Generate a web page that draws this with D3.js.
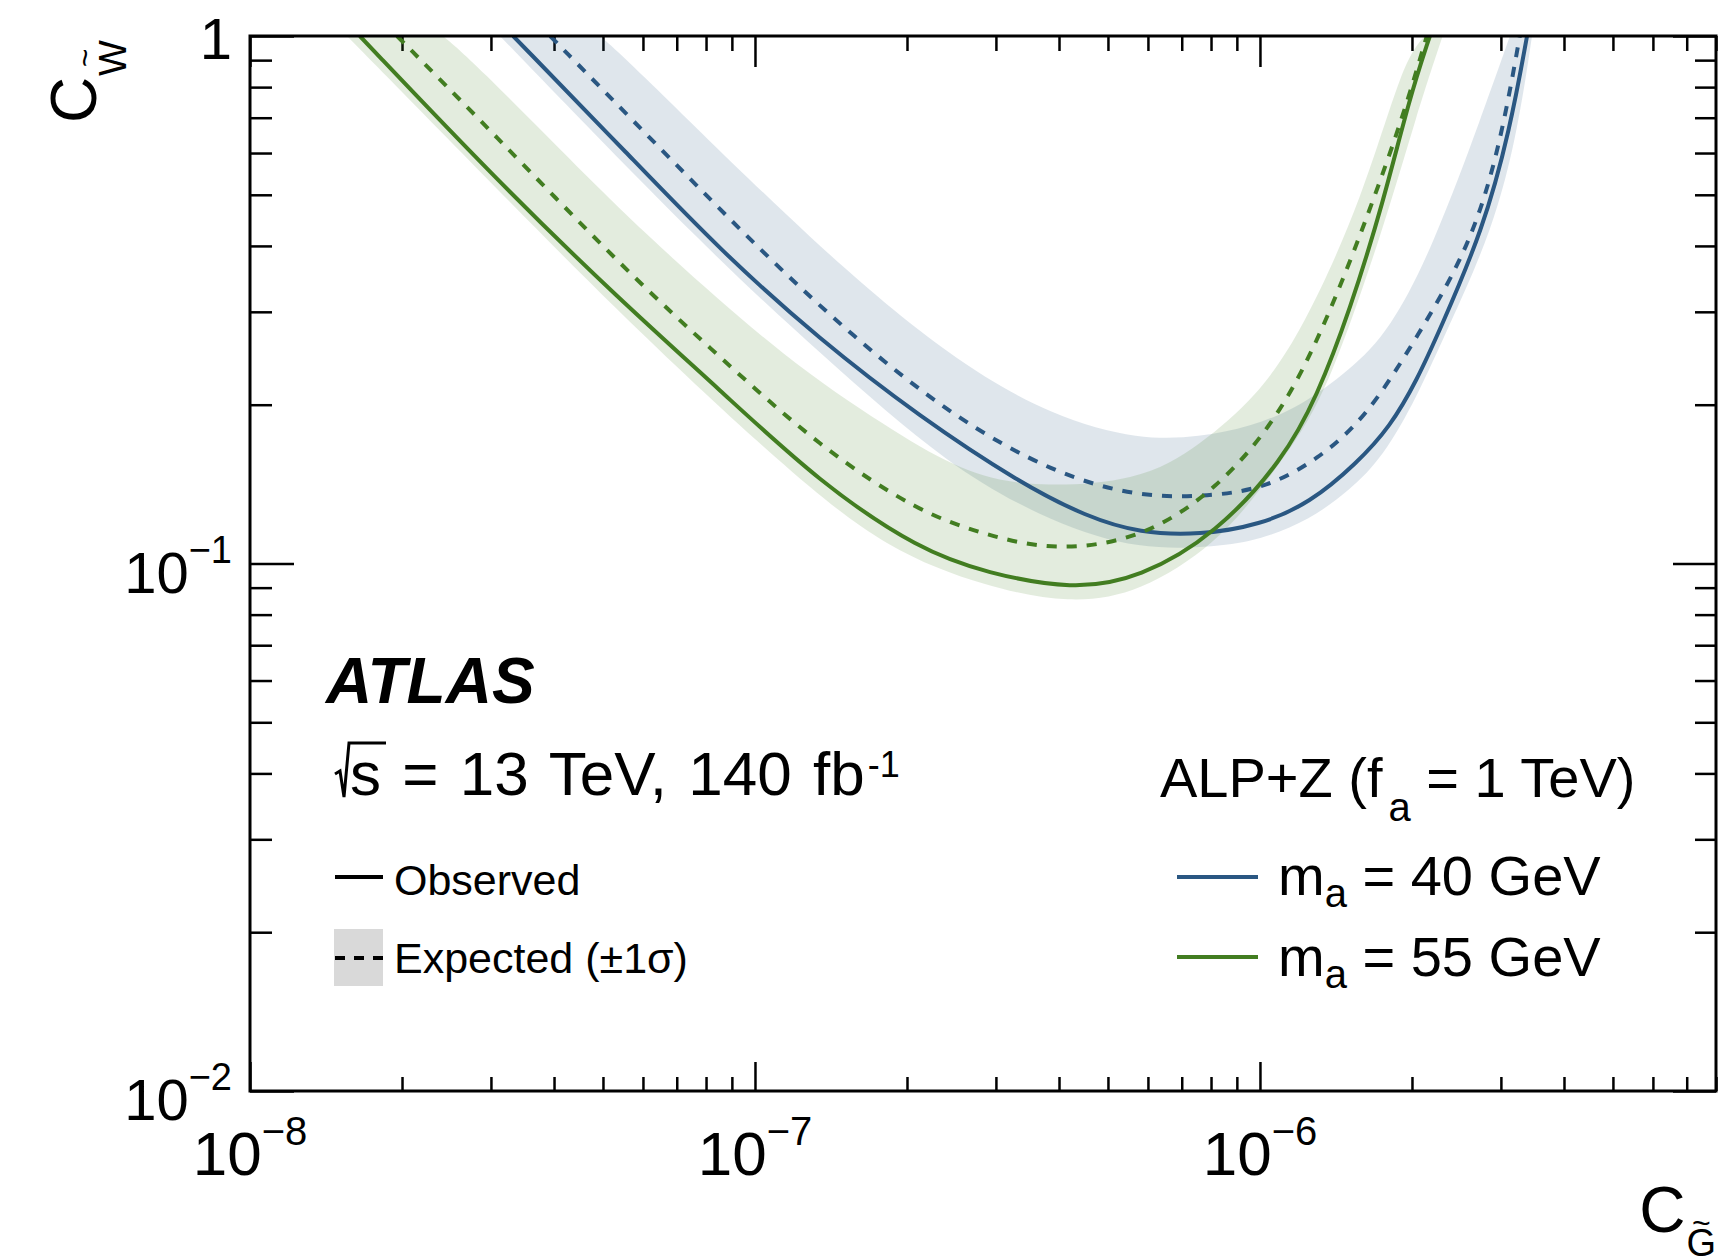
<!DOCTYPE html>
<html>
<head>
<meta charset="utf-8">
<script src="https://cdn.jsdelivr.net/npm/d3@7"></script>
<style>
body { margin: 0; background: #fff; }
text { font-family: "Liberation Sans", Arial, Helvetica, sans-serif; fill: #000; }
</style>
</head>
<body>
<div id="chart"></div>
<script>
// axis ranges
var xRange = [1e-8, 8e-6];
var yRange = [1e-2, 1];

// m_a = 40 GeV : observed, expected, expected +-1 sigma edges
var obs40 = [[3.32e-8,1.0],[5.65e-8,0.592],[8.524e-8,0.3928],[1.345e-7,0.2653],[2.122e-7,0.1896],
  [3.348e-7,0.1421],[4.545e-7,0.1225],[5.787e-7,0.1142],[7.61e-7,0.1132],[1.0e-6,0.1183],
  [1.256e-6,0.1302],[1.556e-6,0.155],[1.81e-6,0.1815],[2.047e-6,0.2228],[2.27e-6,0.277],
  [2.764e-6,0.4287],[3.126e-6,0.6636],[3.38e-6,1.0]];
var exp40 = [[3.93e-8,1.0],[6.57e-8,0.605],[1.023e-7,0.3928],[1.563e-7,0.2688],[2.467e-7,0.1896],
  [3.891e-7,0.1484],[5.787e-7,0.1331],[8.22e-7,0.1343],[1.033e-6,0.1396],[1.297e-6,0.157],
  [1.629e-6,0.1896],[2.047e-6,0.2688],[2.605e-6,0.398],[2.987e-6,0.616],[3.27e-6,1.0]];
var band40Up = [[4.93e-8,1.0],[5.477e-8,0.92],[1.345e-7,0.3928],[2.467e-7,0.243],[3.891e-7,0.1896],
  [5.787e-7,0.1714],[7.61e-7,0.1737],[9.55e-7,0.1815],[1.2e-6,0.198],[1.507e-6,0.2326],
  [1.81e-6,0.277],[2.2e-6,0.398],[2.764e-6,0.7146],[3.126e-6,1.0]];
var band40Dn = [[3.126e-8,1.0],[8.035e-8,0.3928],[1.345e-7,0.2506],[2.432e-7,0.1518],[3.891e-7,0.1193],
  [5.787e-7,0.106],[8.22e-7,0.1075],[1.0e-6,0.1108],[1.256e-6,0.121],[1.507e-6,0.1378],
  [1.753e-6,0.1591],[2.047e-6,0.207],[2.346e-6,0.277],[2.893e-6,0.4287],[3.243e-6,0.6636],[3.457e-6,1.0]];

// m_a = 55 GeV
var obs55 = [[1.65e-8,1.0],[3.08e-8,0.533],[5.403e-8,0.3159],[8.524e-8,0.2133],[1.345e-7,0.1421],
  [2.122e-7,0.106],[2.88e-7,0.0959],[4.26e-7,0.0891],[5.787e-7,0.0938],[8.22e-7,0.1142],
  [1.11e-6,0.157],[1.297e-6,0.207],[1.507e-6,0.302],[1.753e-6,0.482],[1.98e-6,0.766],[2.17e-6,1.0]];
var exp55 = [[1.955e-8,1.0],[2.99e-8,0.663],[5.577e-8,0.3569],[8.524e-8,0.2462],[1.345e-7,0.166],
  [2.122e-7,0.1247],[2.88e-7,0.1132],[3.891e-7,0.1056],[5.787e-7,0.1108],[8.22e-7,0.1378],
  [1.11e-6,0.193],[1.376e-6,0.298],[1.651e-6,0.468],[1.919e-6,0.702],[2.14e-6,1.0]];
var band55Up = [[2.41e-8,1.0],[2.725e-8,0.9085],[4.865e-8,0.517],[6.57e-8,0.3928],[1.157e-7,0.243],
  [1.826e-7,0.1815],[2.467e-7,0.1524],[3.348e-7,0.139],[5.787e-7,0.1427],[7.61e-7,0.1677],
  [9.86e-7,0.207],[1.216e-6,0.277],[1.6e-6,0.495],[1.919e-6,0.893],[2.12e-6,1.0]];
var band55Dn = [[1.556e-8,1.0],[2.27e-8,0.693],[5.403e-8,0.2959],[1.157e-7,0.1504],[1.826e-7,0.106],
  [2.88e-7,0.0902],[4.205e-7,0.0838],[5.787e-7,0.0879],[8.22e-7,0.1094],[1.0e-6,0.1378],
  [1.184e-6,0.1714],[1.376e-6,0.22],[1.753e-6,0.4287],[2.047e-6,0.7146],[2.3e-6,1.0]];

// tick labels (exponents of ten)
var xLabelExp = [-8, -7, -6];
var yLabelExp = [-2, -1, 0];

var blue = "#2a5782", green = "#427d21";

var margin = {top: 36, left: 250},
    width = 1466, height = 1055;

var svg = d3.select("#chart").append("svg")
    .attr("width", 1727).attr("height", 1260)
    .style("background", "#fff");

var plot = svg.append("g")
    .attr("transform", "translate(" + margin.left + "," + margin.top + ")");

var x = d3.scaleLog().domain(xRange).range([0, width]);
var y = d3.scaleLog().domain(yRange).range([height, 0]);

// major and minor tick values
var xMajor = [1e-8, 1e-7, 1e-6], xMinor = [];
xMajor.forEach(function(d){
  for (var k = 2; k <= 9; k++){ if (d*k <= xRange[1]*1.0001) xMinor.push(d*k); }
});
var yMajor = [1e-2, 1e-1, 1], yMinor = [];
[1e-2, 1e-1].forEach(function(d){
  for (var k = 2; k <= 9; k++) yMinor.push(d*k);
});

function ticks(axis, vals, size, tr){
  var g = plot.append("g")
    .attr("transform", tr || null)
    .call(axis.tickValues(vals).tickSize(size).tickSizeOuter(0).tickFormat(""));
  g.select(".domain").remove();
  g.selectAll("line").attr("stroke", "#000").attr("stroke-width", 2.5);
}
ticks(d3.axisBottom(x), xMinor, -14, "translate(0," + height + ")");
ticks(d3.axisBottom(x), xMajor, -29, "translate(0," + height + ")");
ticks(d3.axisTop(x), xMinor, -15);
ticks(d3.axisTop(x), xMajor, -31);
ticks(d3.axisLeft(y), yMinor, -22);
ticks(d3.axisLeft(y), yMajor, -44);
ticks(d3.axisRight(y), yMinor, -21, "translate(" + width + ",0)");
ticks(d3.axisRight(y), yMajor, -43, "translate(" + width + ",0)");

// clip for curves
plot.append("clipPath").attr("id", "clip")
  .append("rect").attr("width", width).attr("height", height);

var curves = plot.append("g").attr("clip-path", "url(#clip)");

// smooth spline through the read-off points
var line = d3.line()
    .x(function(d){ return x(d[0]); })
    .y(function(d){ return y(d[1]); })
    .curve(d3.curveBasis);

function bandPath(up, dn){
  return line(up) + line(dn.slice().reverse()).replace("M", "L") + "Z";
}

// expected +-1 sigma bands
curves.append("path").attr("d", bandPath(band40Up, band40Dn))
  .attr("fill", blue).attr("fill-opacity", 0.15);
curves.append("path").attr("d", bandPath(band55Up, band55Dn))
  .attr("fill", green).attr("fill-opacity", 0.15);

// lines
[[exp40, blue, true], [obs40, blue, false], [exp55, green, true], [obs55, green, false]]
  .forEach(function(s){
    curves.append("path").attr("d", line(s[0]))
      .attr("fill", "none")
      .attr("stroke", s[1])
      .attr("stroke-width", 4)
      .attr("stroke-dasharray", s[2] ? "10,10" : null);
  });

// frame
plot.append("rect").attr("width", width).attr("height", height)
  .attr("fill", "none").attr("stroke", "#000").attr("stroke-width", 3);

// tick labels
xLabelExp.forEach(function(e){
  var t = plot.append("text")
    .attr("x", x(Math.pow(10, e))).attr("y", height + 84)
    .attr("text-anchor", "middle").style("font-size", "62px");
  t.append("tspan").text("10");
  t.append("tspan").attr("dy", -30).style("font-size", "40px").text("\u2212" + (-e));
});
yLabelExp.forEach(function(e){
  var t = plot.append("text")
    .attr("x", -18).attr("text-anchor", "end").style("font-size", "58px");
  if (e === 0) {
    t.attr("y", y(1) + 23).text("1");
  } else {
    t.attr("y", y(Math.pow(10, e)) + 29);
    t.append("tspan").text("10");
    t.append("tspan").attr("dy", -30).style("font-size", "38px").text("\u2212" + (-e));
  }
});

// axis titles with tilde subscripts
function tildeTitle(g, main, sub, subShift, tildeShift){
  var t = g.append("text").attr("x", 0).attr("y", 0).style("font-size", "64px").text(main);
  var w = t.node().getComputedTextLength();
  var s = g.append("text").attr("x", w + 1).attr("y", subShift).style("font-size", "38px").text(sub);
  var sw = s.node().getComputedTextLength();
  g.append("text").attr("x", w + 1 + sw/2).attr("y", subShift - tildeShift)
    .attr("text-anchor", "middle").style("font-size", "32px").text("~");
  return w + 1 + sw;
}
var xt = svg.append("g");
var xtw = tildeTitle(xt, "C", "G", 24, 22);
xt.attr("transform", "translate(" + (margin.left + width - xtw) + ",1232)");

var yt = svg.append("g");
var ytw = tildeTitle(yt, "C", "W", 30, 30);
yt.attr("transform", "translate(96," + (40 + ytw) + ") rotate(-90)");

// ATLAS label
svg.append("text").attr("x", 326).attr("y", 703)
  .style("font-size", "64px").style("font-weight", "bold").style("font-style", "italic")
  .text("ATLAS");

// sqrt(s) line
svg.append("path").attr("d", "M335,774 L340,771 L344,797 L349,743 L386,743")
  .attr("fill", "none").attr("stroke", "#000").attr("stroke-width", 3);
var en = svg.append("text").attr("x", 350).attr("y", 795)
  .style("font-size", "62px").style("word-spacing", "4px");
en.append("tspan").text("s = 13 TeV, 140 fb");
en.append("tspan").attr("dx", 3).attr("dy", -18).style("font-size", "36px").text("-1");

// style legend
svg.append("line").attr("x1", 335).attr("x2", 383).attr("y1", 877).attr("y2", 877)
  .attr("stroke", "#000").attr("stroke-width", 4);
svg.append("text").attr("x", 394).attr("y", 895).style("font-size", "43px").text("Observed");
svg.append("rect").attr("x", 334).attr("y", 929).attr("width", 49).attr("height", 57)
  .attr("fill", "#d9d9d9");
svg.append("line").attr("x1", 335).attr("x2", 383).attr("y1", 958).attr("y2", 958)
  .attr("stroke", "#000").attr("stroke-width", 4).attr("stroke-dasharray", "10,9");
svg.append("text").attr("x", 394).attr("y", 973).style("font-size", "43px").text("Expected (\u00b11\u03c3)");

// model legend
var hd = svg.append("text").attr("x", 1160).attr("y", 797).style("font-size", "56px");
hd.append("tspan").text("ALP+Z (f");
hd.append("tspan").attr("dy", 24).attr("dx", 6).style("font-size", "40px").text("a");
hd.append("tspan").attr("dy", -24).text(" = 1 TeV)");

var massRows = [
  {label: "40 GeV", color: blue, ly: 877, ty: 895},
  {label: "55 GeV", color: green, ly: 957, ty: 976}
];
massRows.forEach(function(r){
  svg.append("line").attr("x1", 1177).attr("x2", 1258).attr("y1", r.ly).attr("y2", r.ly)
    .attr("stroke", r.color).attr("stroke-width", 4);
  var t = svg.append("text").attr("x", 1278).attr("y", r.ty).style("font-size", "56px");
  t.append("tspan").text("m");
  t.append("tspan").attr("dy", 12).style("font-size", "40px").text("a");
  t.append("tspan").attr("dy", -12).text(" = " + r.label);
});
</script>
</body>
</html>
